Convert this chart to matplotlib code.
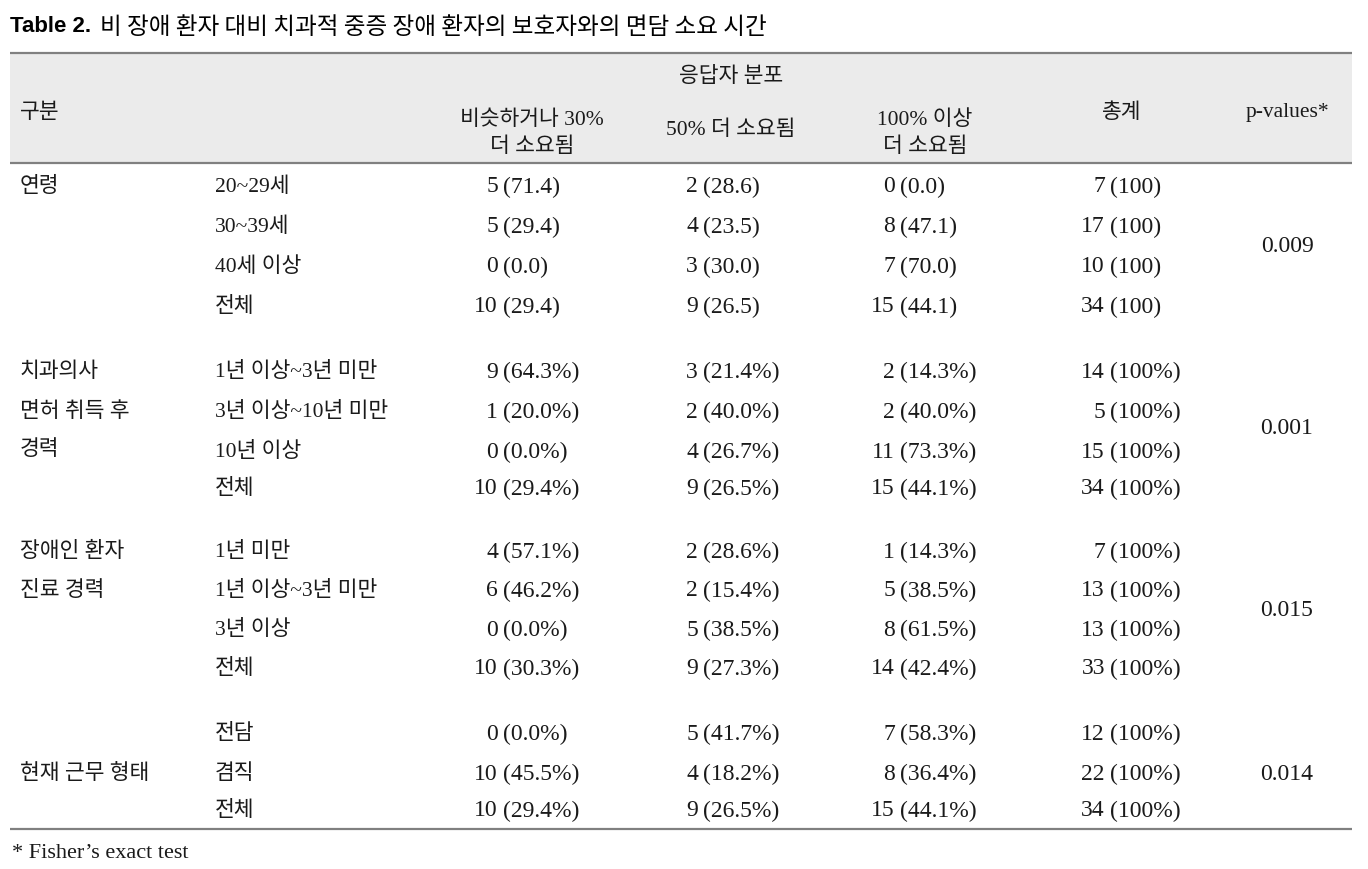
import matplotlib.pyplot as plt
from matplotlib.patches import Rectangle

# =====================================================
# DATA
# =====================================================

title_bold = "Table 2."
title_text = "비 장애 환자 대비 치과적 중증 장애 환자의 보호자와의 면담 소요 시간"

group_labels = [
    ["연령"],
    ["치과의사", "면허 취득 후", "경력"],
    ["장애인 환자", "진료 경력"],
    ["현재 근무 형태"],
]

sub_labels = [
    ["20~29세", "30~39세", "40세 이상", "전체"],
    ["1년 이상~3년 미만", "3년 이상~10년 미만", "10년 이상", "전체"],
    ["1년 미만", "1년 이상~3년 미만", "3년 이상", "전체"],
    ["전담", "겸직", "전체"],
]

counts = [
    [[5, 2, 0, 7], [5, 4, 8, 17], [0, 3, 7, 10], [10, 9, 15, 34]],
    [[9, 3, 2, 14], [1, 2, 2, 5], [0, 4, 11, 15], [10, 9, 15, 34]],
    [[4, 2, 1, 7], [6, 2, 5, 13], [0, 5, 8, 13], [10, 9, 14, 33]],
    [[0, 5, 7, 12], [10, 4, 8, 22], [10, 9, 15, 34]],
]

percents = [
    [["71.4", "28.6", "0.0", "100"], ["29.4", "23.5", "47.1", "100"],
     ["0.0", "30.0", "70.0", "100"], ["29.4", "26.5", "44.1", "100"]],
    [["64.3%", "21.4%", "14.3%", "100%"], ["20.0%", "40.0%", "40.0%", "100%"],
     ["0.0%", "26.7%", "73.3%", "100%"], ["29.4%", "26.5%", "44.1%", "100%"]],
    [["57.1%", "28.6%", "14.3%", "100%"], ["46.2%", "15.4%", "38.5%", "100%"],
     ["0.0%", "38.5%", "61.5%", "100%"], ["30.3%", "27.3%", "42.4%", "100%"]],
    [["0.0%", "41.7%", "58.3%", "100%"], ["45.5%", "18.2%", "36.4%", "100%"],
     ["29.4%", "26.5%", "44.1%", "100%"]],
]

p_values = ["0.009", "0.001", "0.015", "0.014"]

footnote = "* Fisher’s exact test"

# =====================================================
# LAYOUT (pixel coordinates)
# =====================================================

DY = 3  # baseline correction
row_y = [
    [184, 224, 264, 304],
    [369, 409, 449, 486],
    [549, 588, 627, 666],
    [731, 771, 808],
]
group_y = [[184], [369, 409, 447], [549, 588], [771]]
p_y = [244, 425, 607, 771]

col_anchor = [503, 703, 900, 1110]   # position of "("
x_group = 20
x_sub = 215
x_p = 1287

FONT = ["Liberation Serif", "Noto Sans CJK KR", "DejaVu Sans"]
KFONT = ["Noto Sans CJK KR", "DejaVu Sans"]
LINE_C = "#808080"
TXT_C = "#1a1a1a"

fig = plt.figure(figsize=(13.68, 8.69), dpi=100)
ax = fig.add_axes([0, 0, 1, 1])
ax.set_xlim(0, 1368)
ax.set_ylim(869, 0)
ax.axis("off")

# title
ax.text(10, 27, title_bold, fontsize=16, fontweight="bold",
        family=["Liberation Sans Narrow", "Liberation Sans", "DejaVu Sans"],
        va="center", ha="left", color="black")
ax.text(100, 27, title_text, fontsize=17, family=KFONT,
        va="center", ha="left", color="black")

# header band
ax.add_patch(Rectangle((10, 53), 1342, 110, facecolor="#ebebeb",
                       edgecolor="none", zorder=0))
for y in (53, 163, 829):
    ax.plot([10, 1352], [y, y], color=LINE_C, lw=1.6, solid_capstyle="butt")

hdr = dict(fontsize=15.5, family=FONT, color=TXT_C, va="center")
ax.text(731, 74 + DY, "응답자 분포", ha="center", **hdr)
ax.text(20, 110 + DY, "구분", ha="left", **hdr)
ax.text(532, 117 + DY, "비슷하거나 30%", ha="center", **hdr)
ax.text(532, 144 + DY, "더 소요됨", ha="center", **hdr)
ax.text(731, 127 + DY, "50% 더 소요됨", ha="center", **hdr)
ax.text(925, 117 + DY, "100% 이상", ha="center", **hdr)
ax.text(925, 144 + DY, "더 소요됨", ha="center", **hdr)
ax.text(1122, 110 + DY, "총계", ha="center", **hdr)
ax.text(1287, 110 + DY, "p-values*", ha="center", **hdr)

# body
num = dict(fontsize=17, family=FONT, color=TXT_C, va="center")
for g in range(len(sub_labels)):
    for lbl, y in zip(group_labels[g], group_y[g]):
        ax.text(x_group, y + DY, lbl, ha="left", **hdr)
    for r, sub in enumerate(sub_labels[g]):
        y = row_y[g][r] + DY
        ax.text(x_sub, y, sub, ha="left", **hdr)
        for c in range(4):
            ax.text(col_anchor[c] - 5, y, str(counts[g][r][c]), ha="right", **num)
            ax.text(col_anchor[c], y, "(" + percents[g][r][c] + ")", ha="left", **num)
    ax.text(x_p, p_y[g] + DY, p_values[g], ha="center", **num)

ax.text(12, 851 + DY, footnote, ha="left", fontsize=16, family=FONT,
        color=TXT_C, va="center")

fig.savefig("out.png", dpi=100)
